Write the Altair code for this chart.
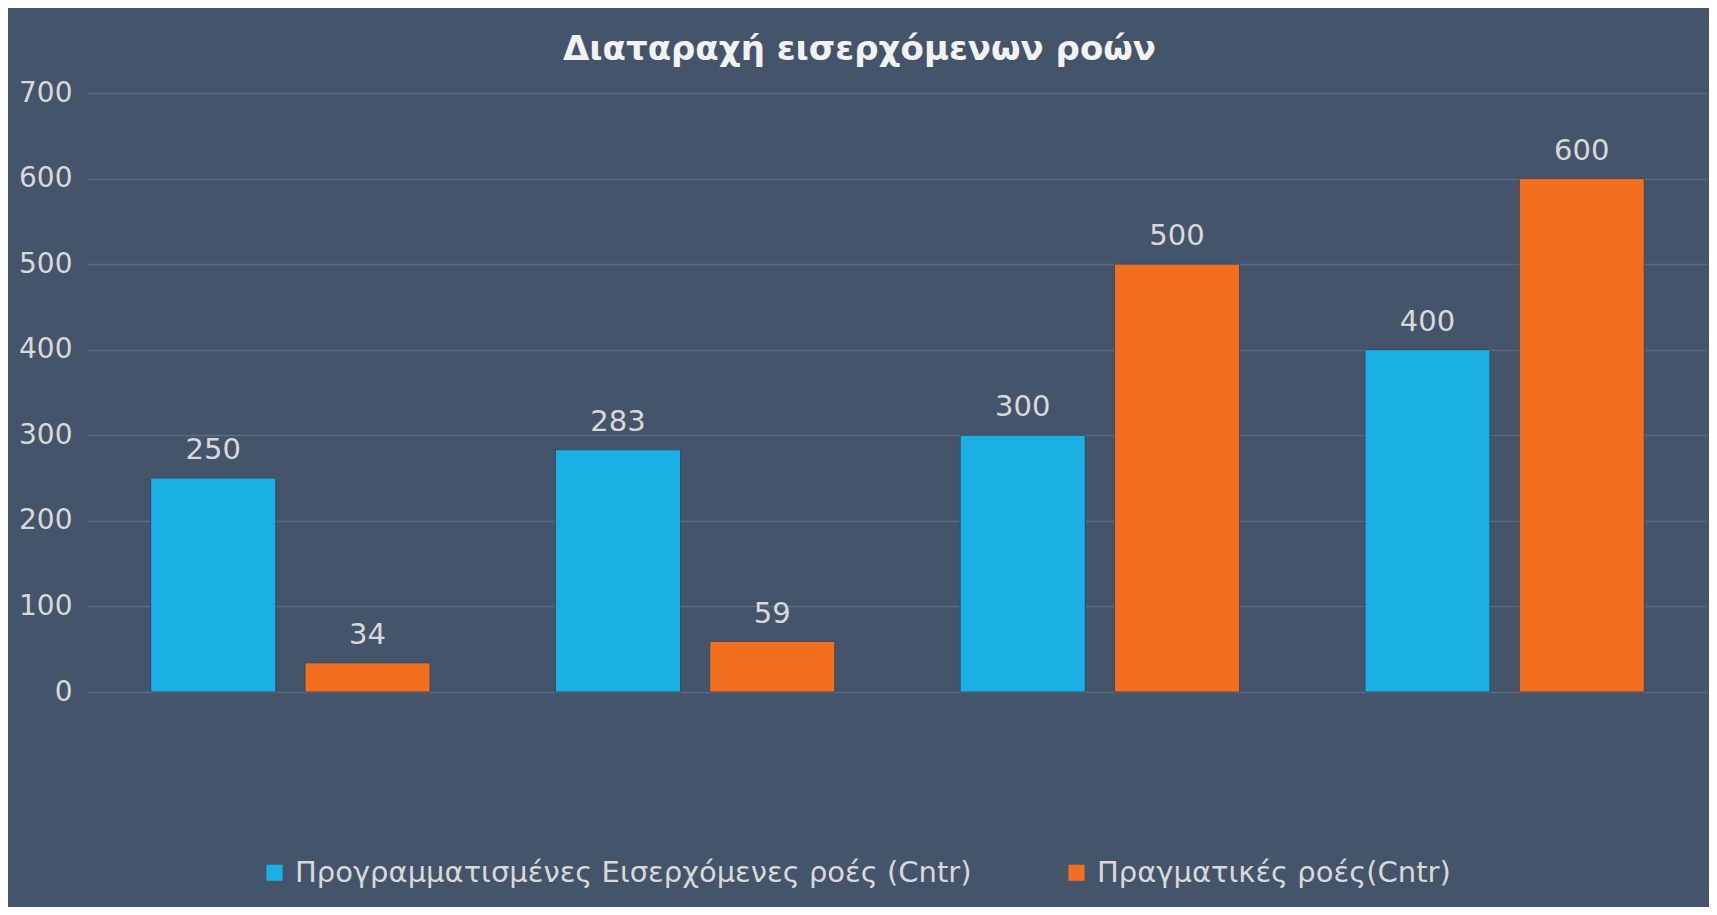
import altair as alt
import pandas as pd

categories = ["Α", "Β", "Γ", "Δ"]
series_names = ["Προγραμματισμένες Εισερχόμενες ροές (Cntr)", "Πραγματικές ροές(Cntr)"]
planned = [250, 283, 300, 400]
actual = [34, 59, 500, 600]
colors = ["#1BB0E4", "#F26F20"]
y_ticks = [0, 100, 200, 300, 400, 500, 600, 700]

rows = []
for c, p, a in zip(categories, planned, actual):
    rows.append({"cat": c, "series": series_names[0], "value": p})
    rows.append({"cat": c, "series": series_names[1], "value": a})
df = pd.DataFrame(rows)

BG = "#44546A"
TXT = "#D9D9D9"
FONT = "DejaVu Sans"

x = alt.X("cat:N", sort=categories, axis=None,
          scale=alt.Scale(paddingInner=0.31, paddingOuter=0.155))
xo = alt.XOffset("series:N", sort=series_names,
                 scale=alt.Scale(paddingInner=0.19, paddingOuter=0))
y = alt.Y("value:Q", scale=alt.Scale(domain=[0, 700], nice=False),
          axis=alt.Axis(values=y_ticks, title=None, domain=False, ticks=False,
                        labelFontSize=28, labelColor=TXT, labelFont=FONT,
                        labelPadding=16, gridColor="#5A6A80", gridWidth=1.5))

bars = alt.Chart(df).mark_bar(stroke="#34425a", strokeWidth=0.8).encode(
    x=x, xOffset=xo, y=y,
    color=alt.Color("series:N", sort=series_names,
                    scale=alt.Scale(domain=series_names, range=colors),
                    legend=alt.Legend(title=None, orient="none", legendX=172, legendY=765,
                                      direction="horizontal", columns=2,
                                      symbolType="square", symbolSize=260,
                                      symbolStrokeWidth=0, symbolOpacity=1,
                                      labelFontSize=29, labelColor=TXT, labelFont=FONT,
                                      labelLimit=1000, columnPadding=90, labelOffset=6)),
)

labels = alt.Chart(df).mark_text(baseline="bottom", dy=-13, fontSize=29, color=TXT, font=FONT).encode(
    x=x, xOffset=xo, y=y, text=alt.Text("value:Q")
)

chart = (bars + labels).properties(
    width=1619, height=599,
    padding={"left": 80, "top": 85, "right": 2, "bottom": 215},
    autosize=alt.AutoSizeParams(type="none"),
    background=BG,
    title=alt.TitleParams("Διαταραχή εισερχόμενων ροών", fontSize=34, font=FONT,
                          fontWeight="bold", color="#F2F2F2", anchor="middle",
                          offset=12, dx=-38),
).configure_view(stroke=None)

chart.save("out.html", embed_options={"renderer": "svg", "actions": False})
